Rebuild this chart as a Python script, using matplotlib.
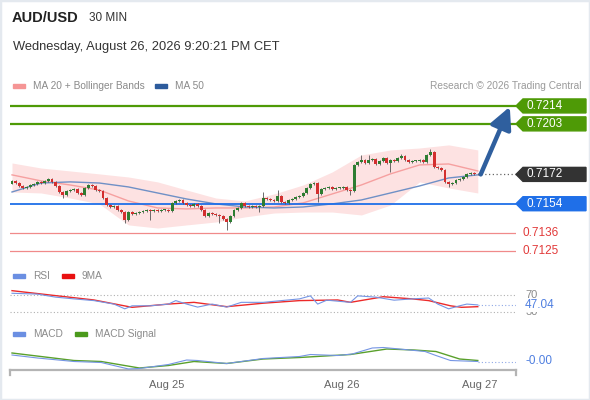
"""AUD/USD 30 min snapshot: candles + MA20/Bollinger + MA50, RSI and MACD panels."""
import matplotlib
matplotlib.use("Agg")
import matplotlib.pyplot as plt
import numpy as np
from matplotlib.patches import Polygon, Rectangle

plt.rcParams["font.family"] = ["Liberation Sans", "DejaVu Sans"]

# ---- data --------------------------------------------------------------
closes = [
    0.71680, 0.71667, 0.71649, 0.71637, 0.71643, 0.71655, 0.71661, 0.71674, 0.71667, 0.71680,
    0.71692, 0.71674, 0.71649, 0.71612, 0.71594, 0.71618, 0.71624, 0.71631, 0.71606, 0.71594,
    0.71637, 0.71655, 0.71649, 0.71624, 0.71618, 0.71575, 0.71532, 0.71520, 0.71526, 0.71502,
    0.71489, 0.71440, 0.71489, 0.71477, 0.71483, 0.71489, 0.71496, 0.71502, 0.71496, 0.71502,
    0.71496, 0.71502, 0.71502, 0.71496, 0.71545, 0.71557, 0.71563, 0.71545, 0.71532, 0.71526,
    0.71539, 0.71526, 0.71502, 0.71465, 0.71483, 0.71477, 0.71471, 0.71465, 0.71446, 0.71428,
    0.71465, 0.71502, 0.71514, 0.71545, 0.71526, 0.71520, 0.71526, 0.71520, 0.71526, 0.71575,
    0.71569, 0.71563, 0.71557, 0.71588, 0.71551, 0.71545, 0.71563, 0.71569, 0.71581, 0.71588,
    0.71606, 0.71637, 0.71661, 0.71667, 0.71600, 0.71631, 0.71637, 0.71643, 0.71631, 0.71637,
    0.71637, 0.71643, 0.71624, 0.71618, 0.71778, 0.71796, 0.71809, 0.71790, 0.71809, 0.71815,
    0.71784, 0.71802, 0.71821, 0.71790, 0.71809, 0.71802, 0.71821, 0.71833, 0.71809, 0.71796,
    0.71802, 0.71802, 0.71809, 0.71796, 0.71839, 0.71858, 0.71766, 0.71759, 0.71747, 0.71674,
    0.71661, 0.71667, 0.71686, 0.71692, 0.71704, 0.71723, 0.71729, 0.71723, 0.71720,
]
first_open = 0.71662
# wick extension beyond the body, in 1e-5 price units
wick_hi = [
    6, 4, 4, 4, 4, 4, 4, 5, 4, 6,
    6, 4, 4, 4, 4, 4, 4, 4, 4, 4,
    6, 4, 4, 4, 4, 4, 4, 4, 4, 4,
    4, 4, 4, 4, 4, 4, 4, 4, 4, 4,
    4, 4, 4, 4, 8, 6, 4, 4, 4, 4,
    4, 4, 4, 4, 4, 4, 4, 4, 4, 4,
    4, 4, 4, 4, 4, 4, 4, 4, 4, 40,
    6, 4, 4, 35, 4, 4, 4, 4, 4, 4,
    4, 6, 6, 8, 4, 4, 4, 4, 4, 4,
    4, 4, 4, 4, 6, 8, 30, 4, 30, 8,
    4, 6, 8, 4, 4, 4, 6, 10, 4, 4,
    4, 4, 4, 4, 8, 15, 4, 4, 4, 4,
    4, 4, 4, 4, 6, 6, 6, 4, 4,
]
wick_lo = [
    4, 4, 6, 4, 4, 4, 4, 4, 4, 4,
    4, 4, 4, 4, 20, 4, 4, 4, 4, 6,
    4, 4, 4, 4, 4, 4, 4, 4, 4, 4,
    4, 20, 4, 4, 4, 4, 4, 4, 55, 4,
    4, 4, 4, 4, 4, 4, 4, 4, 4, 4,
    4, 4, 4, 4, 4, 4, 4, 43, 4, 49,
    4, 4, 4, 4, 4, 4, 4, 4, 30, 4,
    4, 4, 4, 4, 4, 4, 4, 4, 4, 4,
    4, 4, 4, 4, 50, 4, 4, 4, 4, 4,
    4, 4, 4, 25, 4, 4, 4, 4, 4, 4,
    4, 4, 4, 4, 55, 4, 4, 4, 4, 4,
    4, 4, 4, 4, 4, 4, 4, 4, 4, 4,
    18, 4, 4, 4, 4, 4, 4, 4, 4,
]

# indicator samples (every 8th candle)
band_idx = [0, 8, 16, 24, 32, 40, 48, 56, 64, 72, 80, 88, 96, 104, 112, 120, 128]
ma20 = [0.71717, 0.71680, 0.71655, 0.71624, 0.71557, 0.71514, 0.71508, 0.71514, 0.71514,
        0.71520, 0.71545, 0.71600, 0.71655, 0.71723, 0.71778, 0.71784, 0.71741]
bb_upper = [0.71790, 0.71759, 0.71741, 0.71723, 0.71704, 0.71674, 0.71624, 0.71575, 0.71557,
            0.71600, 0.71655, 0.71735, 0.71839, 0.71870, 0.71882, 0.71901, 0.71870]
bb_lower = [0.71612, 0.71606, 0.71575, 0.71539, 0.71410, 0.71391, 0.71410, 0.71428, 0.71459,
            0.71483, 0.71489, 0.71489, 0.71471, 0.71532, 0.71674, 0.71637, 0.71606]
ma50 = [0.71612, 0.71667, 0.71674, 0.71667, 0.71643, 0.71606, 0.71569, 0.71539, 0.71520,
        0.71514, 0.71520, 0.71539, 0.71563, 0.71606, 0.71649, 0.71698, 0.71717]

rsi_idx = [0, 7, 12, 17, 22.5, 28, 31, 33, 38, 43, 45, 48, 51, 55, 59, 63, 69, 74, 79, 82,
           84, 86.5, 93, 95, 100, 105, 110, 114.5, 117, 120, 123, 125, 128]
rsi = [74, 72, 65, 61, 57, 49, 38, 45, 45, 49, 57, 49, 42, 49, 42, 53, 53, 57, 61, 68,
       49, 58, 53, 68, 65, 58, 61, 63, 49, 38, 45, 49, 47.04]
rsi_ma_idx = [0, 12, 22.5, 33, 43, 50, 59, 69, 79, 89.5, 93, 100, 102, 110, 114.5, 120.5, 123.5, 128]
rsi_ma = [80, 68.5, 58.5, 41.5, 49, 53, 43, 51, 57, 58.5, 53, 63, 66, 61, 57, 45, 41.5, 43]

macd_idx = [0, 7, 17, 24.5, 32, 35, 43, 48, 51, 59, 69, 79, 82, 89.5, 93.5, 99, 102, 105,
            113.5, 116.5, 120.5, 128]
macd = [0.00012, 0.00006, -0.00001, -0.00003, -0.00016, -0.00015, -0.00007, 0.00002, 0.00001,
        -0.00005, 0.00005, 0.00009, 0.00013, 0.00011, 0.00014, 0.00026, 0.00027, 0.00025,
        0.00019, 0.00011, 0.00001, -0.00001]
signal_idx = [0, 17, 24.5, 35, 43, 50, 59, 69, 79, 93, 103, 110.5, 116.5, 123, 128]
signal = [0.00016, 0.00001, -0.00001, -0.00014, -0.00009, -0.00001, -0.00005, 0.00004,
          0.00007, 0.00013, 0.00024, 0.00022, 0.00019, 0.00004, 0.00001]

resistances = [0.7214, 0.7203]
pivot = 0.7154
supports = [0.7136, 0.7125]
last_price = 0.7172
date_ticks = [42.5, 90.5, 128.6]
date_labels = ["Aug 25", "Aug 26", "Aug 27"]

# ---- colours -----------------------------------------------------------
GREEN_C = "#2e7d32"
RED_C = "#d32f2f"
LEVEL_GREEN = "#4e9a06"
LEVEL_BLUE = "#1f6fe8"
LEVEL_RED = "#f08a8a"
GREY_TXT = "#8a8a8a"

W, H = 590, 400


def fx(px):
    return px / W


def fy(py):
    return 1 - py / H


def swatch(fig, x, y, color):
    fig.patches.append(Rectangle((fx(x), fy(y + 2)), 12 / W, 4 / H, color=color,
                                 transform=fig.transFigure, figure=fig))


def tag(ax, price, color, text, dy):
    trans = ax.get_yaxis_transform()
    verts = [(1.0, price), (1.0138, price + dy), (1.1383, price + dy),
             (1.1383, price - dy), (1.0138, price - dy)]
    ax.add_patch(Polygon(verts, closed=True, color=color, transform=trans,
                         clip_on=False, zorder=6))
    ax.text(1.02, price, text, transform=trans, color="white", fontsize=8.5,
            va="center", ha="left", zorder=7)


def main():
    fig = plt.figure(figsize=(W / 100, H / 100), dpi=100)
    fig.patches.append(Rectangle((0, 0), 1, 1, fill=False, ec="#e4e9ef", lw=2.5,
                                 transform=fig.transFigure, figure=fig))

    # header
    fig.text(fx(12), fy(18), "AUD/USD", fontsize=10.5, fontweight="bold",
             color="#222222", va="center")
    fig.text(fx(89), fy(18), "30 MIN", fontsize=8.5, color="#333333", va="center")
    fig.text(fx(13), fy(47), "Wednesday, August 26, 2026 9:20:21 PM CET",
             fontsize=9.3, color="#333333", va="center")
    swatch(fig, 13, 86, "#f59595")
    fig.text(fx(33), fy(86), "MA 20 + Bollinger Bands", fontsize=7.3, color=GREY_TXT, va="center")
    swatch(fig, 155, 86, "#2d5b9c")
    fig.text(fx(175), fy(86), "MA 50", fontsize=7.3, color=GREY_TXT, va="center")
    fig.text(fx(581), fy(86), "Research \u00a9 2026 Trading Central", fontsize=7.3,
             color="#9a9a9a", va="center", ha="right")

    # ---- main price panel ----
    ax = fig.add_axes([fx(10), fy(265), 506 / W, 169 / H])
    ax.set_xlim(-0.55, 138.5)
    ax.set_ylim(0.71164, 0.72201)
    ax.axis("off")

    c = np.array(closes)
    o = np.concatenate([[first_open], c[:-1]])
    top = np.maximum(o, c)
    bot = np.minimum(o, c)
    hi = top + np.array(wick_hi) * 1e-5
    lo = bot - np.array(wick_lo) * 1e-5
    idx = np.arange(len(c))
    up = c >= o

    ax.fill_between(band_idx, bb_lower, bb_upper, color="#fde2e2", lw=0, zorder=1)
    ax.plot(band_idx, ma20, color="#f6a0a0", lw=1.0, zorder=2)
    ax.plot(band_idx, ma50, color="#6f90c6", lw=1.0, zorder=2)

    colors = np.where(up, GREEN_C, RED_C)
    ax.vlines(idx, lo, hi, colors="#555555", lw=0.6, zorder=3)
    heights = np.maximum(top - bot, 0.00005)
    ax.bar(idx, heights, bottom=bot, width=0.8, color=colors, lw=0, zorder=4)

    for p in resistances:
        ax.axhline(p, color=LEVEL_GREEN, lw=1.6, zorder=2)
    ax.axhline(pivot, color=LEVEL_BLUE, lw=1.3, zorder=2)
    for p in supports:
        ax.axhline(p, color=LEVEL_RED, lw=0.9, zorder=2)

    dy = 7 * (0.72201 - 0.71164) / 169
    for p in resistances:
        tag(ax, p, LEVEL_GREEN, f"{p:.4f}", dy)
    tag(ax, last_price, "#333333", f"{last_price:.4f}", dy)
    tag(ax, pivot, LEVEL_BLUE, f"{pivot:.4f}", dy)
    trans = ax.get_yaxis_transform()
    for p in supports:
        ax.text(1.0138, p, f"{p:.4f}", transform=trans, color="#e23a3a",
                fontsize=8.5, va="center", ha="left")

    ax.plot([idx[-1] + 1, 138.5], [last_price, last_price], ls=(0, (1, 2)),
            color="#666666", lw=0.9, zorder=2)
    ax.annotate("", xy=(136.8, resistances[0] - 0.00005), xytext=(idx[-1] + 0.8, c[-1]),
                arrowprops=dict(arrowstyle="-|>,head_length=1.3,head_width=0.65",
                                mutation_scale=10, lw=3.2, color="#2f5f9e",
                                shrinkA=0, shrinkB=0), zorder=8)

    # ---- RSI panel ----
    swatch(fig, 13, 276, "#6b8fe2")
    fig.text(fx(33), fy(276), "RSI", fontsize=7.3, color=GREY_TXT, va="center")
    swatch(fig, 62, 276, "#e81010")
    fig.text(fx(82), fy(276), "9MA", fontsize=7.3, color=GREY_TXT, va="center")

    ax_r = fig.add_axes([fx(10), fy(318), 506 / W, 33 / H])
    ax_r.set_xlim(-0.55, 138.5)
    ax_r.set_ylim(16.8, 93.1)
    ax_r.axis("off")
    for lvl in (70, 30):
        ax_r.axhline(lvl, ls=(0, (1, 2)), color="#b0b0b0", lw=0.8)
    ax_r.plot(rsi_idx, rsi, color="#7595e4", lw=0.8, zorder=3)
    ax_r.plot(rsi_ma_idx, rsi_ma, color="#ec2a2a", lw=1.0, zorder=2)
    ax_r.plot([rsi_idx[-1], 138.5], [rsi[-1], rsi[-1]], ls=(0, (1, 2)),
              color="#8fa8e6", lw=0.8)
    rtrans = ax_r.get_yaxis_transform()
    ax_r.text(1.018, 70, "70", transform=rtrans, fontsize=8, color="#8a8a8a", va="center")
    ax_r.text(1.018, 30, "30", transform=rtrans, fontsize=8, color="#8a8a8a", va="center")
    ax_r.text(1.018, rsi[-1], f"{rsi[-1]:.2f}", transform=rtrans, fontsize=8.5,
              color="#4f7fe0", va="center",
              bbox=dict(boxstyle="square,pad=0.05", fc="white", ec="none"))

    # ---- MACD panel ----
    swatch(fig, 13, 334, "#6b8fe2")
    fig.text(fx(33), fy(334), "MACD", fontsize=7.3, color=GREY_TXT, va="center")
    swatch(fig, 75, 334, "#4b9a1c")
    fig.text(fx(95), fy(334), "MACD Signal", fontsize=7.3, color=GREY_TXT, va="center")

    ax_m = fig.add_axes([fx(10), fy(370), 506 / W, 30 / H])
    ax_m.set_xlim(-0.55, 138.5)
    ax_m.set_ylim(-0.00018, 0.00042)
    for side in ("top", "left", "right"):
        ax_m.spines[side].set_visible(False)
    ax_m.spines["bottom"].set_color("#b4b4b4")
    ax_m.spines["bottom"].set_linewidth(1.6)
    ax_m.set_yticks([])
    ax_m.set_xticks(date_ticks)
    ax_m.set_xticklabels(date_labels, fontsize=8, color="#666666")
    ax_m.tick_params(axis="x", length=0, pad=7)
    for xe in (0, 1):
        ax_m.plot([xe, xe], [0, -0.17], transform=ax_m.transAxes, color="#b4b4b4",
                  lw=1.6, clip_on=False)
    ax_m.plot(signal_idx, signal, color="#5aa02c", lw=1.0, zorder=2)
    ax_m.plot(macd_idx, macd, color="#7595e4", lw=0.8, zorder=3)
    ax_m.plot([macd_idx[-1], 138.5], [macd[-1], macd[-1]], ls=(0, (1, 2)),
              color="#8fa8e6", lw=0.8)
    mtrans = ax_m.get_yaxis_transform()
    ax_m.text(1.018, macd[-1], f"{macd[-1]:.2f}", transform=mtrans, fontsize=8.5,
              color="#4f7fe0", va="center")

    fig.savefig("out.png", dpi=100)


if __name__ == "__main__":
    main()
